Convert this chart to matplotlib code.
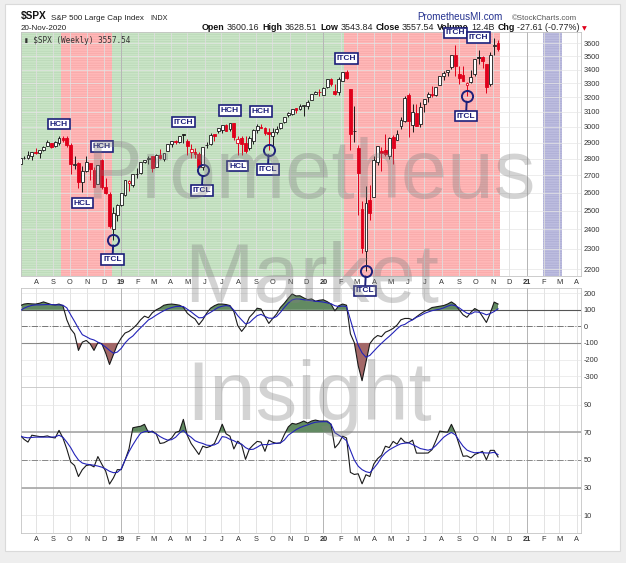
import numpy as np
import pandas as pd
import matplotlib
matplotlib.use('Agg')
import matplotlib.pyplot as plt
from matplotlib.patches import Rectangle
from matplotlib.ticker import NullLocator

W, H = 626, 563

def fx(x):
    return x / W

def fy(y):
    return 1 - y / H

# ---------------- data ----------------
dates = pd.date_range('2018-07-06', periods=125, freq='W-FRI')
prev_close_start = 2718

opens = [2714, 2765, 2801, 2804, 2819, 2840, 2833, 2851, 2876, 2897, 2880, 2896, 2926, 2926, 2882, 2763, 2773, 2660, 2726, 2773, 2730, 2649, 2790, 2630, 2590, 2400,
         2476, 2531, 2586, 2657, 2644, 2706, 2712, 2780, 2798, 2814, 2748, 2823, 2796, 2848, 2892, 2909, 2901, 2952, 2908, 2841, 2841, 2830, 2752, 2885,
         2889, 2952, 2971, 2979, 3014, 2987, 3024, 2897, 2930, 2898, 2866, 2909, 2980, 3002, 2991, 2968, 2944, 2965, 2996, 3032, 3078, 3087, 3123, 3117,
         3143, 3141, 3183, 3227,
         3240, 3218, 3271, 3333, 3247, 3235, 3318, 3380, 3257, 2974, 2863, 2509, 2290, 2559, 2578, 2782, 2846, 2855, 2815, 2937, 2913, 3004, 3038, 3213,
         3012, 3094, 3018, 3155, 3201, 3225, 3215, 3289, 3356, 3380, 3419, 3507, 3369, 3363, 3285, 3310, 3366, 3493, 3493, 3441, 3296, 3583, 3600]
highs = [2764, 2804, 2816, 2848, 2841, 2863, 2855, 2877, 2916, 2900, 2908, 2941, 2940, 2939, 2894, 2816, 2779, 2756, 2815, 2775, 2747, 2760, 2800, 2685, 2601, 2520,
         2538, 2597, 2675, 2672, 2708, 2744, 2775, 2793, 2816, 2817, 2830, 2860, 2836, 2893, 2910, 2917, 2940, 2954, 2920, 2892, 2868, 2841, 2874, 2905,
         2964, 2950, 2996, 3014, 3018, 3028, 3027, 2944, 2939, 2939, 2940, 2985, 3021, 3022, 3002, 2993, 2993, 3008, 3027, 3067, 3097, 3121, 3127, 3154,
         3150, 3183, 3226, 3248,
         3258, 3275, 3330, 3338, 3293, 3348, 3385, 3393, 3260, 3137, 2883, 2553, 2637, 2641, 2819, 2880, 2871, 2955, 2934, 2945, 2978, 3068, 3211, 3233,
         3155, 3155, 3165, 3185, 3238, 3280, 3272, 3352, 3387, 3399, 3509, 3588, 3425, 3429, 3306, 3397, 3482, 3550, 3502, 3441, 3530, 3646, 3629]
lows = [2698, 2765, 2795, 2795, 2792, 2830, 2802, 2850, 2876, 2864, 2874, 2886, 2903, 2874, 2710, 2738, 2628, 2603, 2717, 2670, 2631, 2649, 2621, 2593, 2409, 2346,
        2444, 2525, 2579, 2612, 2631, 2684, 2705, 2774, 2767, 2722, 2748, 2800, 2785, 2848, 2873, 2891, 2898, 2900, 2825, 2801, 2805, 2750, 2729, 2868,
        2887, 2912, 2964, 2964, 2976, 2977, 2914, 2822, 2825, 2834, 2856, 2891, 2964, 2993, 2946, 2856, 2874, 2952, 2987, 3024, 3068, 3078, 3091, 3115,
        3070, 3123, 3183, 3224,
        3212, 3214, 3263, 3280, 3214, 3217, 3315, 3328, 2855, 2901, 2478, 2280, 2192, 2447, 2578, 2761, 2727, 2816, 2797, 2767, 2913, 2986, 3032, 2936,
        2965, 3004, 2999, 3101, 3166, 3202, 3210, 3285, 3327, 3355, 3407, 3349, 3293, 3314, 3209, 3305, 3354, 3442, 3413, 3234, 3279, 3512, 3544]
closes = [2759, 2801, 2802, 2819, 2840, 2833, 2850, 2874, 2902, 2872, 2905, 2930, 2914, 2886, 2767, 2768, 2659, 2723, 2781, 2736, 2633, 2760, 2633, 2600, 2417, 2486,
          2532, 2596, 2671, 2665, 2707, 2708, 2776, 2793, 2804, 2743, 2822, 2801, 2834, 2893, 2907, 2905, 2940, 2945, 2881, 2860, 2826, 2752, 2873, 2887,
          2950, 2942, 2990, 3014, 2977, 3026, 2932, 2919, 2889, 2847, 2926, 2979, 3007, 2992, 2961, 2952, 2970, 2986, 3023, 3067, 3093, 3120, 3110, 3141,
          3146, 3169, 3221, 3240,
          3235, 3265, 3330, 3295, 3226, 3328, 3380, 3338, 2954, 2972, 2711, 2305, 2541, 2489, 2790, 2875, 2837, 2831, 2930, 2864, 2955, 3044, 3194, 3041,
          3098, 3009, 3130, 3185, 3225, 3216, 3271, 3351, 3373, 3397, 3508, 3427, 3341, 3319, 3298, 3348, 3477, 3484, 3465, 3270, 3510, 3585, 3558]

# indicator values for bars 1..124
cci = [125, 135, 138, 136, 135, 140, 148, 140, 132, 130, 135, 125, 40, -15, -45, -145, -95, -85, -105, -145,
       -98, -104, -160, -230, -170, -110, -70, -40, -30, -12, 10, 40, 62, 52, 82, 100, 112, 128, 133, 135,
       132, 128, 116, 80, 60, 45, 10, 40, 80, 110, 125, 135, 135, 132, 126, 90, 5, -30, 0, 55,
       80, 110, 105, 60, 18, 48, 75, 115, 140, 170, 196, 184, 185, 172, 162, 166, 152, 158, 161, 150,
       135, 94, 125, 135, 128, -45, -98, -237, -328, -216, -104, -73, -55, -62, -35, -25, -12, 8, 40, 48,
       48, 40, 58, 75, 90, 100, 114, 118, 122, 126, 135, 148, 132, 100, 70, 55, 85, 108, 95, 60,
       24, 80, 147, 135]
cci_ma = [95, 110, 120, 127, 130, 130, 131, 132, 132, 130, 130, 128, 112, 70, 30, -12, -50, -62, -75, -82,
          -95, -108, -125, -145, -162, -155, -133, -100, -75, -58, -32, -8, 15, 39, 52, 68, 82, 95, 106, 114,
          120, 121, 120, 104, 88, 69, 52, 53, 72, 85, 100, 115, 122, 126, 122, 98, 65, 39, 15, 22,
          45, 65, 73, 60, 50, 49, 60, 85, 115, 141, 160, 166, 165, 161, 158, 155, 152, 150, 147, 142,
          137, 125, 120, 123, 120, 40, -40, -114, -160, -186, -175, -150, -125, -102, -80, -60, -38, -15, 5, 12,
          28, 40, 55, 65, 78, 87, 95, 100, 104, 112, 122, 130, 125, 112, 95, 80, 75, 88, 86, 80,
          70, 78, 90, 106]
rsi = [68, 65, 63, 68, 67.5, 67, 67, 67.5, 66.5, 66, 71.5, 66, 58, 48.5, 46, 38, 43, 46, 46.5, 45,
       52.5, 47, 42, 32.5, 37, 43, 43, 50, 58, 73.4, 74, 74.5, 75.9, 70, 71, 69, 62, 62.5, 64, 66,
       70, 71, 79.5, 68, 62, 58, 54, 60, 59, 60, 62, 68.5, 76, 69, 67.3, 58, 63.7, 61, 50.5, 58,
       61, 63.5, 63, 56.3, 64.4, 62.9, 62, 62.4, 68.5, 74, 76.6, 76, 77, 78.3, 76.8, 78.3, 79, 78.3, 78.3, 78.3,
       76, 58.8, 62, 67.3, 66, 41, 39.5, 40, 32.7, 39.3, 38, 47, 51, 53.5, 60, 59, 63.5, 61.5, 66, 63,
       62.5, 64.4, 55, 55, 55, 55.1, 57.5, 64, 71, 70.5, 70.2, 75.9, 69.8, 61, 52.7, 53, 51.5, 54, 55.1, 56.3,
       50.2, 57, 57, 52.2]
rsi_ma = [67.3, 66.5, 66.1, 66.4, 66.6, 66.6, 66.6, 66.6, 66.6, 66.8, 68, 66.5, 63, 59, 54, 50, 47.8, 47, 46.6, 46.2,
          45.6, 44.8, 43.5, 41.8, 40.8, 41, 43.5, 50, 56, 61, 65.5, 69.5, 70.6, 71, 70.4, 69, 67, 65.5, 64.4, 64.8,
          66.5, 69.5, 71.5, 68.5, 66.5, 64, 62.8, 62, 60.8, 60.5, 61, 62.4, 67, 66.5, 65, 64, 62.4, 61.5, 59, 57.6,
          57.8, 59.3, 61, 61.2, 61.2, 61.8, 62.2, 62.4, 64.5, 68, 70, 72, 73.5, 74.6, 75.5, 76.6, 77.4, 77.7, 77.8, 77.8,
          76, 69.8, 68, 66.3, 64, 57, 50, 45.5, 43, 41.5, 40.8, 44, 47.5, 52, 55.2, 57.4, 59, 60.5, 61.8, 62.2,
          62.4, 61.2, 59.8, 58.3, 57.7, 57.1, 58, 60.5, 63.5, 66.5, 68.5, 70, 68.3, 64, 60, 57.2, 56, 55.2, 55.5, 55.3,
          55.1, 55.1, 55.6, 53.9]

# signal phases (bar positions) and chart annotations
phases = [(-1, 11.5, 'green'), (11.5, 24.56, 'red'), (24.56, 84.4, 'green'),
          (84.4, 124.5, 'red'), (135.6, 140.5, 'blue')]
labels_hi = [('HCH', 11), ('HCH', 22), ('ITCH', 43), ('HCH', 55), ('HCH', 63),
             ('ITCH', 85), ('ITCH', 113), ('ITCH', 119)]
labels_lo = [('HCL', 17), ('HCL', 57)]
itcl_bars = [25, 48, 65, 90, 116]

quote = {'Open': '3600.16', 'High': '3628.51', 'Low': '3543.84',
         'Close': '3557.54', 'Volume': '12.4B', 'Chg': '-27.61 (-0.77%)'}

# ---------------- styling ----------------
plt.rcParams['font.family'] = ['Liberation Sans', 'DejaVu Sans']
plt.rcParams['hatch.linewidth'] = 0.35
plt.rcParams['axes.unicode_minus'] = False
NAVY = '#1c1f7a'
RED = '#e0001b'
BLACK = '#1a1a1a'
shade = {'green': ('#c9e4c6', '#b3d3b0'), 'red': ('#ffb7b7', '#f3a2a2'),
         'blue': ('#bcbcdf', '#a6a6cf')}

opens, highs, lows, closes = map(np.array, (opens, highs, lows, closes))
xb = np.arange(len(closes))
xi = np.arange(1, len(cci) + 1)
cci, cci_ma, rsi, rsi_ma = map(np.array, (cci, cci_ma, rsi, rsi_ma))

prev = np.r_[prev_close_start, closes[:-1]]
cols = np.where(closes >= prev, BLACK, RED)
faces = np.where(closes < opens, cols, 'white')

fig = plt.figure(figsize=(W / 100, H / 100), dpi=100, facecolor='#eeeeee')
fig.patches.append(Rectangle((fx(5), fy(551)), fx(620) - fx(5), (551 - 4) / H,
                             transform=fig.transFigure, facecolor='white',
                             edgecolor='#dadada', lw=0.8, zorder=-1))

left, right = fx(20.8), fx(581)
ax1 = fig.add_axes([left, fy(276), right - left, (276 - 32) / H])
ax2 = fig.add_axes([left, fy(387), right - left, (387 - 288) / H])
ax3 = fig.add_axes([left, fy(533), right - left, (533 - 387) / H])
ax1.set_zorder(3)

# month ticks
mstarts = pd.date_range('2018-08-01', '2021-04-01', freq='MS')
mpos = (mstarts - dates[0]).days / 7 + 1.35
mlab = [d.strftime('%y') if d.month == 1 else d.strftime('%b')[0] for d in mstarts]
ypos = [p for p, d in zip(mpos, mstarts) if d.month == 1]

for ax in (ax1, ax2, ax3):
    ax.set_xlim(1.16, 145.35)
    ax.set_xticks(mpos)
    ax.set_xticklabels(mlab)
    ax.grid(axis='x', color='#dedede', lw=0.6)
    ax.grid(axis='y', color='#e6e6e6', lw=0.5)
    ax.set_axisbelow(True)
    for p in ypos:
        ax.axvline(p, color='#b5b5b5', lw=0.7, zorder=0.6)
    ax.yaxis.tick_right()
    ax.tick_params(axis='both', length=0, labelsize=5.3, colors='#333333', pad=2)
    for s in ax.spines.values():
        s.set_color('#c4c4c4')
        s.set_linewidth(0.6)
    for t, d in zip(ax.get_xticklabels(), mstarts):
        if d.month == 1:
            t.set_fontweight('bold')
ax2.tick_params(axis='x', labelbottom=False)

# ---------------- price panel ----------------
ax1.set_yscale('log')
for a, b, c in phases:
    ax1.axvspan(a, b, facecolor=shade[c][0], edgecolor=shade[c][1],
                hatch='-------', lw=0, zorder=0.2)
ax1.vlines(xb, lows, highs, colors=cols, lw=0.7, zorder=2)
ax1.bar(xb, np.abs(closes - opens) + 0.5, bottom=np.minimum(opens, closes),
        width=0.72, color=faces, edgecolor=cols, linewidth=0.6, zorder=3)
ax1.set_ylim(2168, 3690)
ax1.set_yticks(range(2200, 3700, 100))
ax1.set_yticklabels([str(v) for v in range(2200, 3700, 100)])
ax1.yaxis.set_minor_locator(NullLocator())

box = dict(boxstyle='square,pad=0.22', fc='white', ec=NAVY, lw=1.2)
for lab, i in labels_hi:
    ax1.annotate(lab, (xb[i], highs[i]), xytext=(0, 12), textcoords='offset pixels',
                 ha='center', va='center', fontsize=6, fontweight='bold', color=NAVY,
                 bbox=box, annotation_clip=False, zorder=6)
for lab, i in labels_lo:
    ax1.annotate(lab, (xb[i], lows[i]), xytext=(0, -11), textcoords='offset pixels',
                 ha='center', va='center', fontsize=6, fontweight='bold', color=NAVY,
                 bbox=box, annotation_clip=False, zorder=6)
for i in itcl_bars:
    ax1.plot(xb[i], lows[i], 'o', ms=8, mfc='none', mec=NAVY, mew=1.4, zorder=6,
             clip_on=False)
    ax1.annotate('ITCL', (xb[i], lows[i]), xytext=(-1, -20), textcoords='offset pixels',
                 ha='center', va='center', fontsize=6, fontweight='bold', color=NAVY,
                 bbox=box, annotation_clip=False, zorder=6,
                 arrowprops=dict(arrowstyle='-', color=NAVY, lw=1.4, shrinkA=0, shrinkB=4))

ax1.text(0.006, 0.985, '\u25ae $SPX (Weekly) 3557.54', transform=ax1.transAxes,
         family='DejaVu Sans Mono', fontsize=5.6, color='#333333', va='top', zorder=7)

# ---------------- CCI panel ----------------
ax2.set_ylim(-366, 232)
ax2.set_yticks([-300, -200, -100, 0, 100, 200])
ax2.fill_between(xi, cci, 100, where=cci > 100, interpolate=True, color='#628a62', lw=0, zorder=2)
ax2.fill_between(xi, cci, -100, where=cci < -100, interpolate=True, color='#a36868', lw=0, zorder=2)
ax2.axhline(100, color='#555555', lw=0.8, zorder=1)
ax2.axhline(-100, color='#8a8a8a', lw=0.8, zorder=1)
ax2.axhline(0, color='#777777', lw=0.7, ls='-.', zorder=1)
ax2.plot(xi, cci, color=BLACK, lw=0.8, zorder=3)
ax2.plot(xi, cci_ma, color='#2323b8', lw=0.8, zorder=4)

# ---------------- RSI panel ----------------
ax3.set_ylim(-3, 103)
ax3.set_yticks([10, 30, 50, 70, 90])
ax3.fill_between(xi, rsi, 70, where=rsi > 70, interpolate=True, color='#628a62', lw=0, zorder=2)
ax3.axhline(70, color='#a5a5a5', lw=1.2, zorder=1)
ax3.axhline(30, color='#a5a5a5', lw=1.2, zorder=1)
ax3.axhline(50, color='#888888', lw=0.7, ls='-.', zorder=1)
ax3.plot(xi, rsi, color=BLACK, lw=0.8, zorder=3)
ax3.plot(xi, rsi_ma, color='#2323b8', lw=0.8, zorder=4)

# ---------------- header ----------------
fig.text(fx(21), fy(19.5), '$SPX', fontsize=7.3, fontweight='bold', color='#111111')
fig.text(fx(51), fy(19.5), 'S&P 500 Large Cap Index', fontsize=5.8, color='#222222')
fig.text(fx(150), fy(19.5), 'INDX', fontsize=5.2, color='#222222')
fig.text(fx(21), fy(30), dates[-1].strftime('%d-%b-%Y').replace(' ', ''), fontsize=5.8, color='#222222')
fig.text(fx(417), fy(20.5), 'PrometheusMI.com', fontsize=7.1, color='#23308f')
fig.text(fx(512), fy(19.5), '\u00a9StockCharts.com', fontsize=5.6, color='#555555')

prev_t = ax1.annotate('Open', (fx(202), fy(30)), xycoords='figure fraction', fontsize=6.4,
                      fontweight='bold', color='#111111', annotation_clip=False, va='baseline')
first = True
for k, v in quote.items():
    if not first:
        prev_t = ax1.annotate(k, (1, 0), xycoords=prev_t, xytext=(2.8, 0), textcoords='offset pixels',
                              fontsize=6.4, fontweight='bold', color='#111111', va='bottom',
                              annotation_clip=False)
    first = False
    prev_t = ax1.annotate(v, (1, 0), xycoords=prev_t, xytext=(2.3, 0), textcoords='offset pixels',
                          fontsize=6.4, color='#222222', va='bottom', annotation_clip=False)
ax1.annotate('\u25bc', (1, 0), xycoords=prev_t, xytext=(2, 0.5), textcoords='offset pixels',
             fontsize=4.5, color=RED, va='bottom', family='DejaVu Sans', annotation_clip=False)

# ---------------- watermark ----------------
for word, cx, by in [('Prometheus', 311, 198), ('Market', 312, 302), ('Insight', 309, 420)]:
    fig.text(fx(cx), fy(by), word, fontsize=60, color='#808080', alpha=0.34,
             ha='center', va='baseline', zorder=20)

fig.savefig('out.png', dpi=100, facecolor=fig.get_facecolor())
